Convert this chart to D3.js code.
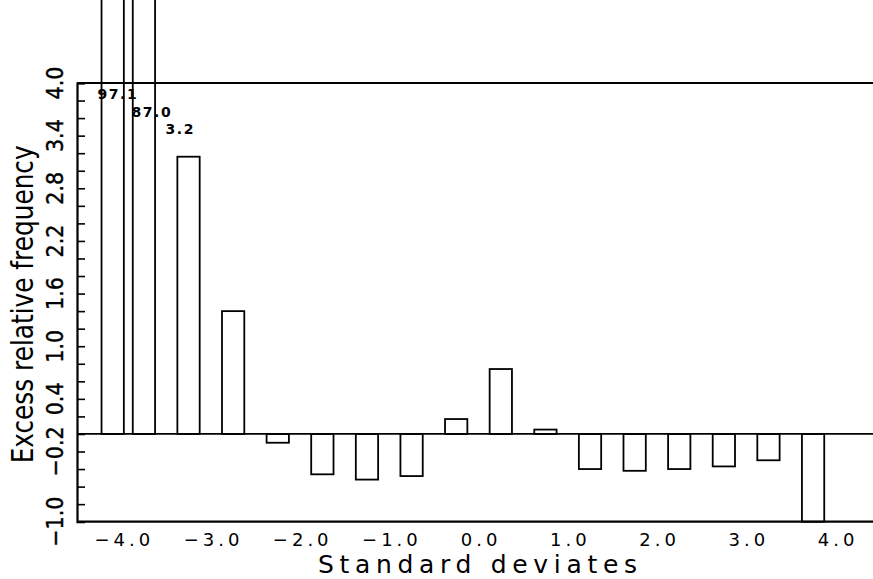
<!DOCTYPE html>
<html>
<head>
<meta charset="utf-8">
<script src="https://cdn.jsdelivr.net/npm/d3@7"></script>
<style>
  html, body { margin: 0; padding: 0; background: #fff; }
  svg { display: block; }
</style>
</head>
<body>
<div id="chart"></div>
<script>
// ---------- data
const binCenters = [-4.1, -3.75, -3.25, -2.75, -2.25, -1.75, -1.25, -0.75, -0.25,
                    0.25, 0.75, 1.25, 1.75, 2.25, 2.75, 3.25, 3.75];
const excessFreq = [97.1, 87.0, 3.16, 1.40, -0.10, -0.46, -0.52, -0.48, 0.17,
                    0.74, 0.05, -0.40, -0.42, -0.40, -0.37, -0.30, -1.0];
const labelledBars = [0, 1, 2];
const xTickValues = [-4, -3, -2, -1, 0, 1, 2, 3, 4];
const yTickLabels = [4.0, 3.4, 2.8, 2.2, 1.6, 1.0, 0.4, -0.2, -1.0];
const binWidth = 0.25;

const bars = binCenters.map((c, i) => ({ center: c, value: excessFreq[i], i }));

// ---------- dimensions
const dims = {
  width: 873,
  height: 579,
  margin: { top: 83, right: -7, bottom: 57.3, left: 77 }
};
dims.boundedWidth = dims.width - dims.margin.left - dims.margin.right;
dims.boundedHeight = dims.height - dims.margin.top - dims.margin.bottom;

const svg = d3.select("#chart").append("svg")
  .attr("width", dims.width)
  .attr("height", dims.height);

const bounds = svg.append("g")
  .attr("transform", `translate(${dims.margin.left},${dims.margin.top})`);

// ---------- scales
const xScale = d3.scaleLinear()
  .domain([-4.5, 4.5])
  .range([0, dims.boundedWidth]);

const yScale = d3.scaleLinear()
  .domain([-1, 4])
  .range([dims.boundedHeight, 0]);

const fmt = d3.format(".1f");

// ---------- bars (outlined, clipped only by the page)
bounds.append("g")
  .selectAll("rect")
  .data(bars)
  .join("rect")
  .attr("x", d => xScale(d.center - binWidth / 2))
  .attr("width", d => xScale(d.center + binWidth / 2) - xScale(d.center - binWidth / 2))
  .attr("y", d => yScale(Math.max(0, d.value)))
  .attr("height", d => Math.abs(yScale(d.value) - yScale(0)))
  .attr("fill", "none")
  .attr("stroke", "#000")
  .attr("stroke-width", 1.8);

// ---------- frame and zero line
const frame = bounds.append("g").attr("stroke", "#000").attr("fill", "none");
frame.append("line")
  .attr("x1", 0).attr("x2", dims.boundedWidth)
  .attr("y1", yScale(4)).attr("y2", yScale(4))
  .attr("stroke-width", 2);
frame.append("line")
  .attr("x1", 0).attr("x2", dims.boundedWidth)
  .attr("y1", yScale(-1)).attr("y2", yScale(-1))
  .attr("stroke-width", 2.2);
frame.append("line")
  .attr("x1", 0).attr("x2", dims.boundedWidth)
  .attr("y1", yScale(0)).attr("y2", yScale(0))
  .attr("stroke-width", 1.8);

// ---------- y axis: inward ticks every 0.2, rotated labels
const yAxisGenerator = d3.axisRight(yScale)
  .tickValues(d3.range(-1, 4.001, 0.2))
  .tickSize(8)
  .tickFormat("");

const yAxis = bounds.append("g").call(yAxisGenerator);
yAxis.select(".domain").attr("stroke-width", 2.2);
yAxis.selectAll(".tick line").attr("stroke-width", 1.6);

bounds.append("g")
  .selectAll("text")
  .data(yTickLabels)
  .join("text")
  .attr("transform", d => `translate(-14,${yScale(d)}) rotate(-90)`)
  .attr("text-anchor", "middle")
  .style("font-family", "'Liberation Sans Narrow', 'DejaVu Sans Condensed', sans-serif")
  .style("font-size", "23px")
  .attr("fill", "#000")
  .attr("stroke", "#000")
  .attr("stroke-width", 0.4)
  .text(d => fmt(d));

// ---------- x axis labels (no tick marks)
const xAxisGenerator = d3.axisBottom(xScale)
  .tickValues(xTickValues)
  .tickSize(0)
  .tickPadding(0)
  .tickFormat(d => fmt(d));

const xAxis = bounds.append("g")
  .attr("transform", `translate(0,${dims.boundedHeight})`)
  .call(xAxisGenerator);
xAxis.select(".domain").remove();
xAxis.selectAll("text")
  .attr("y", 24)
  .attr("dy", 0)
  .attr("dx", "0.12em")
  .style("font-family", "'DejaVu Sans', sans-serif")
  .style("font-size", "18px")
  .style("letter-spacing", "4px")
  .attr("fill", "#000");

// ---------- axis titles
svg.append("text")
  .attr("x", (318 + 637) / 2)
  .attr("y", dims.margin.top + dims.boundedHeight + 51)
  .attr("text-anchor", "middle")
  .attr("textLength", 319)
  .attr("lengthAdjust", "spacing")
  .style("font-family", "'DejaVu Sans', sans-serif")
  .style("font-size", "25px")
  .attr("fill", "#000")
  .text("Standard deviates");

svg.append("text")
  .attr("transform", `translate(33,${yScale(1.5) + dims.margin.top + 2}) rotate(-90)`)
  .attr("text-anchor", "middle")
  .attr("textLength", 318)
  .attr("lengthAdjust", "spacingAndGlyphs")
  .style("font-family", "'Liberation Sans Narrow', 'DejaVu Sans Condensed', sans-serif")
  .style("font-size", "31px")
  .attr("fill", "#000")
  .text("Excess relative frequency");

// ---------- value labels for the off-scale bars, staggered
bounds.append("g")
  .selectAll("text")
  .data(labelledBars.map(i => bars[i]))
  .join("text")
  .attr("x", (d, k) => xScale(-4) - 24 + 34 * k)
  .attr("y", (d, k) => yScale(4) + 16 + 17.5 * k)
  .style("font-family", "'DejaVu Sans', sans-serif")
  .style("font-size", "14px")
  .style("font-weight", "bold")
  .style("letter-spacing", "1.5px")
  .attr("fill", "#000")
  .text(d => fmt(d.value));
</script>
</body>
</html>
